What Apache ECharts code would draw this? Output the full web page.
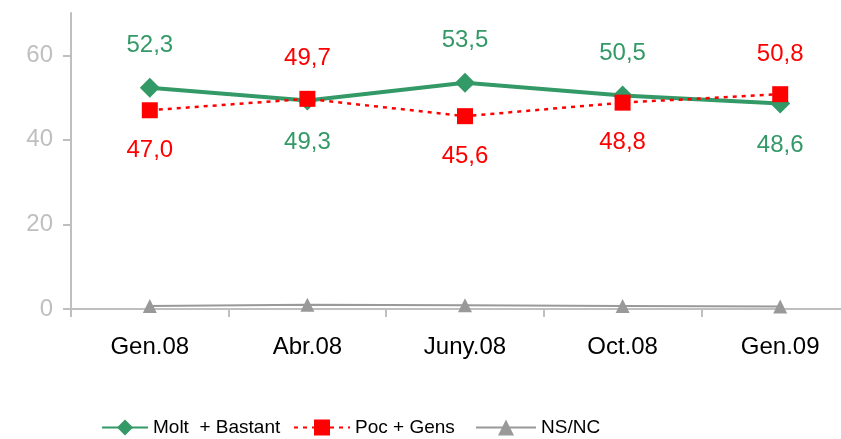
<!DOCTYPE html>
<html>
<head>
<meta charset="utf-8">
<script src="https://cdn.jsdelivr.net/npm/echarts@6/dist/echarts.min.js"></script>
<style>
  html, body { margin: 0; padding: 0; background: #fff; }
  #main { width: 841px; height: 439px; }
</style>
</head>
<body>
<div id="main"></div>
<script>
  // dades
  var categories = ['Gen.08', 'Abr.08', 'Juny.08', 'Oct.08', 'Gen.09']
  var moltBastant = [52.3, 49.3, 53.5, 50.5, 48.6]
  var pocGens = [47.0, 49.7, 45.6, 48.8, 50.8]
  var nsnc = [0.7, 1.0, 0.9, 0.7, 0.6]
  var yTicks = [0, 20, 40, 60]
  var seriesNames = ['Molt  + Bastant', 'Poc + Gens', 'NS/NC']

  var green = '#339966'
  var red = '#ff0000'
  var grey = '#999999'
  var axisGrey = '#bfbfbf'
  var font = 'Liberation Sans, Arial, sans-serif'

  // on va l'etiqueta de cada punt
  var greenSide = ['top', 'bottom', 'top', 'top', 'bottom']
  var redSide = ['bottom', 'top', 'bottom', 'bottom', 'top']

  function fmt(v) {
    return v.toFixed(1).replace('.', ',')
  }

  function withLabels(values, sides, color) {
    return values.map(function (v, i) {
      return {
        value: v,
        label: {
          show: true,
          position: sides[i],
          distance: 20,
          color: color,
          fontSize: 24,
          fontFamily: font,
          formatter: function (p) { return fmt(p.value) }
        }
      }
    })
  }

  function legendAt(name, left, width) {
    return {
      top: 413,
      left: left,
      itemWidth: width,
      itemHeight: 20,
      textStyle: { fontSize: 19, fontFamily: font, color: '#000' },
      data: [name]
    }
  }

  var myChart = echarts.init(document.getElementById('main'))
  var option = {
    animation: false,
    grid: { left: 71, right: -18, top: 13, bottom: 130, outerBoundsMode: 'none' },
    legend: [
      legendAt(seriesNames[0], 96, 46),
      legendAt(seriesNames[1], 288, 56),
      legendAt(seriesNames[2], 470, 60)
    ],
    xAxis: {
      type: 'category',
      data: categories,
      boundaryGap: true,
      axisLine: { lineStyle: { color: axisGrey, width: 2 } },
      axisTick: { show: true, length: 8, lineStyle: { color: axisGrey, width: 2 } },
      axisLabel: { color: '#000', fontSize: 24, fontFamily: font, margin: 26 }
    },
    yAxis: {
      type: 'value',
      min: 0,
      max: 70,
      interval: 20,
      axisLine: { show: true, lineStyle: { color: axisGrey, width: 2 } },
      axisTick: { show: true, length: 8, lineStyle: { color: axisGrey, width: 2 } },
      splitLine: { show: false },
      axisLabel: {
        color: axisGrey,
        fontSize: 24,
        fontFamily: font,
        margin: 18,
        showMaxLabel: false,
        formatter: function (v) { return yTicks.indexOf(v) >= 0 ? v : '' }
      }
    },
    series: [
      {
        name: seriesNames[0],
        type: 'line',
        symbol: 'diamond',
        symbolSize: 20,
        z: 3,
        itemStyle: { color: green },
        lineStyle: { color: green, width: 4 },
        data: withLabels(moltBastant, greenSide, green)
      },
      {
        name: seriesNames[1],
        type: 'line',
        symbol: 'rect',
        symbolSize: 16,
        z: 4,
        itemStyle: { color: red },
        lineStyle: { color: red, width: 2.5, type: [4, 5] },
        data: withLabels(pocGens, redSide, red)
      },
      {
        name: seriesNames[2],
        type: 'line',
        symbol: 'triangle',
        symbolSize: 14,
        itemStyle: { color: grey },
        lineStyle: { color: grey, width: 2 },
        data: nsnc
      }
    ]
  }
  myChart.setOption(option)
  window.addEventListener('resize', function () {
    myChart.resize()
  })
</script>
</body>
</html>
